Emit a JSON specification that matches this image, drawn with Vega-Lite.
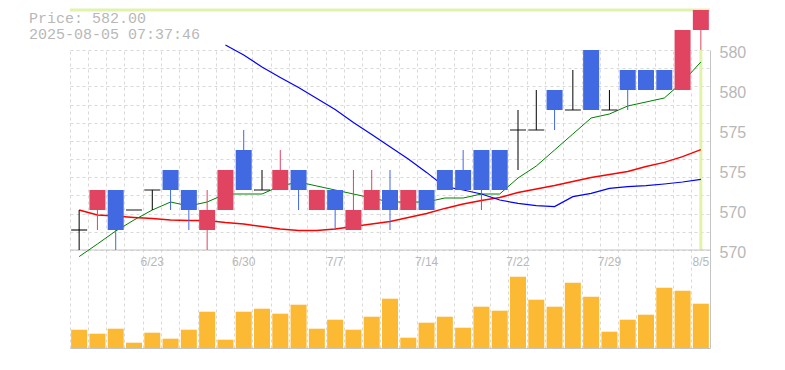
{
  "$schema": "https://vega.github.io/schema/vega-lite/v6.json",
  "autosize": {"type": "none"},
  "padding": {"left": 70, "top": 50, "right": 75, "bottom": 22},
  "width": 640,
  "height": 298,
  "background": "white",
  "title": {
    "text": "Price: 582.00",
    "subtitle": "2025-08-05 07:37:46",
    "anchor": "start",
    "frame": "group",
    "font": "Liberation Mono",
    "fontSize": 15,
    "fontWeight": "normal",
    "color": "#b8b8b8",
    "subtitleFont": "Liberation Mono",
    "subtitleFontSize": 15,
    "subtitleColor": "#b8b8b8",
    "subtitlePadding": 1,
    "dx": -41,
    "dy": 33,
    "offset": 0
  },
  "config": {
    "view": {"stroke": null},
    "axis": {
      "gridColor": "#d9d9d9",
      "gridDash": [3, 3],
      "gridWidth": 1,
      "domainColor": "#c4c4c4",
      "domainWidth": 1,
      "labelColor": "#b8b8b8",
      "ticks": false,
      "title": null
    }
  },
  "data": {
    "values": [
      {"d": "6/17", "o": 571, "h": 572, "l": 570, "c": 571, "v": 18300, "m5": 569.67, "m25": 572.0, "m75": null},
      {"d": "6/18", "o": 572, "h": 573, "l": 571, "c": 573, "v": 14300, "m5": 570.3, "m25": 571.75, "m75": null},
      {"d": "6/19", "o": 573, "h": 573, "l": 570, "c": 571, "v": 19300, "m5": 570.95, "m25": 571.7, "m75": null},
      {"d": "6/20", "o": 572, "h": 572, "l": 572, "c": 572, "v": 5300, "m5": 571.5, "m25": 571.63, "m75": null},
      {"d": "6/23", "o": 573, "h": 573, "l": 572, "c": 573, "v": 15300, "m5": 572.0, "m25": 571.57, "m75": null},
      {"d": "6/24", "o": 574, "h": 574, "l": 572, "c": 573, "v": 9300, "m5": 572.4, "m25": 571.5, "m75": null},
      {"d": "6/25", "o": 573, "h": 573, "l": 571, "c": 572, "v": 18300, "m5": 572.2, "m25": 571.48, "m75": null},
      {"d": "6/26", "o": 571, "h": 573, "l": 570, "c": 572, "v": 36300, "m5": 572.4, "m25": 571.47, "m75": null},
      {"d": "6/27", "o": 572, "h": 574, "l": 572, "c": 574, "v": 8300, "m5": 572.8, "m25": 571.37, "m75": 580.25},
      {"d": "6/30", "o": 575, "h": 576, "l": 573, "c": 573, "v": 36300, "m5": 572.8, "m25": 571.3, "m75": 579.75},
      {"d": "7/1", "o": 573, "h": 574, "l": 573, "c": 573, "v": 39300, "m5": 572.8, "m25": 571.17, "m75": 579.15},
      {"d": "7/2", "o": 573, "h": 575, "l": 573, "c": 574, "v": 34300, "m5": 573.2, "m25": 571.05, "m75": 578.63},
      {"d": "7/3", "o": 574, "h": 574, "l": 572, "c": 573, "v": 43300, "m5": 573.4, "m25": 570.97, "m75": 578.12},
      {"d": "7/4", "o": 572, "h": 573, "l": 572, "c": 573, "v": 19300, "m5": 573.2, "m25": 570.97, "m75": 577.58},
      {"d": "7/7", "o": 573, "h": 573, "l": 571, "c": 572, "v": 28300, "m5": 573.0, "m25": 571.05, "m75": 577.03},
      {"d": "7/8", "o": 571, "h": 574, "l": 571, "c": 572, "v": 18300, "m5": 572.8, "m25": 571.17, "m75": 576.37},
      {"d": "7/9", "o": 572, "h": 574, "l": 572, "c": 573, "v": 31300, "m5": 572.6, "m25": 571.3, "m75": 575.77},
      {"d": "7/10", "o": 573, "h": 574, "l": 571, "c": 572, "v": 49300, "m5": 572.4, "m25": 571.43, "m75": 575.16},
      {"d": "7/11", "o": 572, "h": 573, "l": 572, "c": 573, "v": 10300, "m5": 572.4, "m25": 571.62, "m75": 574.55},
      {"d": "7/14", "o": 573, "h": 573, "l": 572, "c": 572, "v": 25300, "m5": 572.4, "m25": 571.83, "m75": 573.88},
      {"d": "7/15", "o": 574, "h": 574, "l": 573, "c": 573, "v": 31300, "m5": 572.6, "m25": 572.08, "m75": 573.17},
      {"d": "7/16", "o": 574, "h": 575, "l": 573, "c": 573, "v": 20300, "m5": 572.6, "m25": 572.3, "m75": 573.0},
      {"d": "7/17", "o": 575, "h": 575, "l": 572, "c": 573, "v": 41300, "m5": 572.8, "m25": 572.47, "m75": 572.8},
      {"d": "7/18", "o": 575, "h": 575, "l": 573, "c": 573, "v": 37300, "m5": 572.8, "m25": 572.63, "m75": 572.5},
      {"d": "7/22", "o": 576, "h": 577, "l": 574, "c": 576, "v": 71300, "m5": 573.6, "m25": 572.87, "m75": 572.33},
      {"d": "7/23", "o": 576, "h": 578, "l": 576, "c": 576, "v": 48300, "m5": 574.2, "m25": 573.05, "m75": 572.22},
      {"d": "7/24", "o": 578, "h": 578, "l": 576, "c": 577, "v": 41300, "m5": 575.0, "m25": 573.22, "m75": 572.17},
      {"d": "7/25", "o": 577, "h": 579, "l": 577, "c": 577, "v": 65300, "m5": 575.8, "m25": 573.42, "m75": 572.67},
      {"d": "7/28", "o": 580, "h": 580, "l": 577, "c": 577, "v": 51300, "m5": 576.6, "m25": 573.62, "m75": 572.83},
      {"d": "7/29", "o": 577, "h": 578, "l": 577, "c": 577, "v": 16300, "m5": 576.8, "m25": 573.77, "m75": 573.08},
      {"d": "7/30", "o": 579, "h": 579, "l": 577, "c": 578, "v": 28300, "m5": 577.2, "m25": 573.93, "m75": 573.17},
      {"d": "7/31", "o": 579, "h": 579, "l": 578, "c": 578, "v": 33300, "m5": 577.4, "m25": 574.17, "m75": 573.22},
      {"d": "8/1", "o": 579, "h": 579, "l": 578, "c": 578, "v": 60300, "m5": 577.6, "m25": 574.38, "m75": 573.3},
      {"d": "8/4", "o": 578, "h": 581, "l": 578, "c": 581, "v": 57300, "m5": 578.4, "m25": 574.67, "m75": 573.4},
      {"d": "8/5", "o": 581, "h": 582, "l": 580, "c": 582, "v": 44300, "m5": 579.4, "m25": 575.02, "m75": 573.53}
    ]
  },
  "resolve": {"scale": {"y": "independent"}, "axis": {"x": "independent"}},
  "layer": [
    {
      "mark": {"type": "bar", "size": 16, "color": "#fcb934"},
      "encoding": {
        "x": {
          "field": "d", "type": "ordinal", "sort": null,
          "scale": {"type": "band", "paddingInner": 0, "paddingOuter": 0,
            "domain": ["6/17","6/18","6/19","6/20","6/23","6/24","6/25","6/26","6/27","6/30","7/1","7/2","7/3","7/4","7/7","7/8","7/9","7/10","7/11","7/14","7/15","7/16","7/17","7/18","7/22","7/23","7/24","7/25","7/28","7/29","7/30","7/31","8/1","8/4","8/5"]},
          "axis": {"orient": "bottom", "grid": false, "labels": false, "domain": true, "ticks": false}
        },
        "y": {
          "field": "v", "type": "quantitative",
          "scale": {"domain": [0, 298000], "nice": false},
          "axis": null
        }
      }
    },
    {
      "resolve": {"axis": {"x": "independent", "y": "independent"}},
      "layer": [
        {
          "data": {"values": [{}]},
          "mark": {"type": "rule", "color": "#e1f3ab", "strokeWidth": 3},
          "encoding": {
            "x": {"datum": "8/5", "type": "ordinal", "axis": null},
            "y": {"datum": 580, "type": "quantitative", "axis": null},
            "y2": {"datum": 570}
          }
        },
        {
          "data": {"values": [{}]},
          "mark": {"type": "rule", "color": "#e1f3ab", "strokeWidth": 3},
          "encoding": {
            "y": {"datum": 582, "type": "quantitative", "axis": null}
          }
        },
        {
          "data": {"values": [{}]},
          "mark": {"type": "rule", "color": "#c4c4c4", "strokeWidth": 1},
          "encoding": {
            "y": {"datum": 570, "type": "quantitative", "axis": null}
          }
        },
        {
          "mark": {"type": "line", "color": "#008000", "strokeWidth": 1},
          "encoding": {
            "x": {"field": "d", "type": "ordinal", "sort": null, "axis": null},
            "y": {"field": "m5", "type": "quantitative", "axis": null}
          }
        },
        {
          "mark": {"type": "line", "color": "#ff0000", "strokeWidth": 1.5},
          "encoding": {
            "x": {"field": "d", "type": "ordinal", "sort": null, "axis": null},
            "y": {"field": "m25", "type": "quantitative", "axis": null}
          }
        },
        {
          "mark": {"type": "line", "color": "#0000ff", "strokeWidth": 1.2},
          "encoding": {
            "x": {"field": "d", "type": "ordinal", "sort": null, "axis": null},
            "y": {"field": "m75", "type": "quantitative", "axis": null}
          }
        },
        {
          "mark": {"type": "rule", "strokeWidth": 1},
          "encoding": {
            "x": {
              "field": "d", "type": "ordinal", "sort": null,
              "axis": {"orient": "top", "grid": true, "bandPosition": 0, "labels": false, "domain": false, "ticks": false}
            },
            "y": {
              "field": "l", "type": "quantitative",
              "axis": {"orient": "left", "grid": true, "labels": false, "domain": false, "ticks": false,
                "values": [570, 570.909, 571.818, 572.727, 573.636, 574.545, 575.455, 576.364, 577.273, 578.182, 579.091, 580]}
            },
            "y2": {"field": "h"},
            "color": {
              "condition": [
                {"test": "datum.c == datum.o", "value": "#000000"},
                {"test": "datum.c > datum.o", "value": "#e04461"}
              ],
              "value": "#4169e1"
            }
          }
        },
        {
          "mark": {"type": "bar", "size": 16},
          "encoding": {
            "x": {"field": "d", "type": "ordinal", "sort": null, "axis": null},
            "y": {
              "field": "o", "type": "quantitative",
              "scale": {"domain": [565.1, 580], "nice": false, "zero": false},
              "axis": {"orient": "right", "grid": false, "values": [570, 572, 574, 576, 578, 580],
                "labelExpr": "format(round(datum.value / 5) * 5, 'd')",
                "labelFont": "Liberation Sans", "labelFontSize": 16, "labelPadding": 9, "labelOffset": 2, "domain": true, "ticks": false}
            },
            "y2": {"field": "c"},
            "color": {
              "condition": [
                {"test": "datum.c > datum.o", "value": "#e04461"}
              ],
              "value": "#4169e1"
            }
          }
        },
        {
          "transform": [{"filter": "datum.o == datum.c"}],
          "mark": {"type": "tick", "color": "#000000", "size": 16, "thickness": 1.3},
          "encoding": {
            "x": {"field": "d", "type": "ordinal", "sort": null, "axis": null},
            "y": {"field": "o", "type": "quantitative", "axis": null}
          }
        },
        {
          "transform": [{"filter": "indexof(['6/23','6/30','7/7','7/14','7/22','7/29','8/5'], datum.d) >= 0"}],
          "mark": {"type": "text", "font": "Liberation Sans", "fontSize": 12, "color": "#b8b8b8", "baseline": "middle", "align": "center"},
          "encoding": {
            "x": {"field": "d", "type": "ordinal", "sort": null, "axis": null},
            "y": {"datum": 569.4, "type": "quantitative", "axis": null},
            "text": {"field": "d"}
          }
        }
      ]
    }
  ]
}
